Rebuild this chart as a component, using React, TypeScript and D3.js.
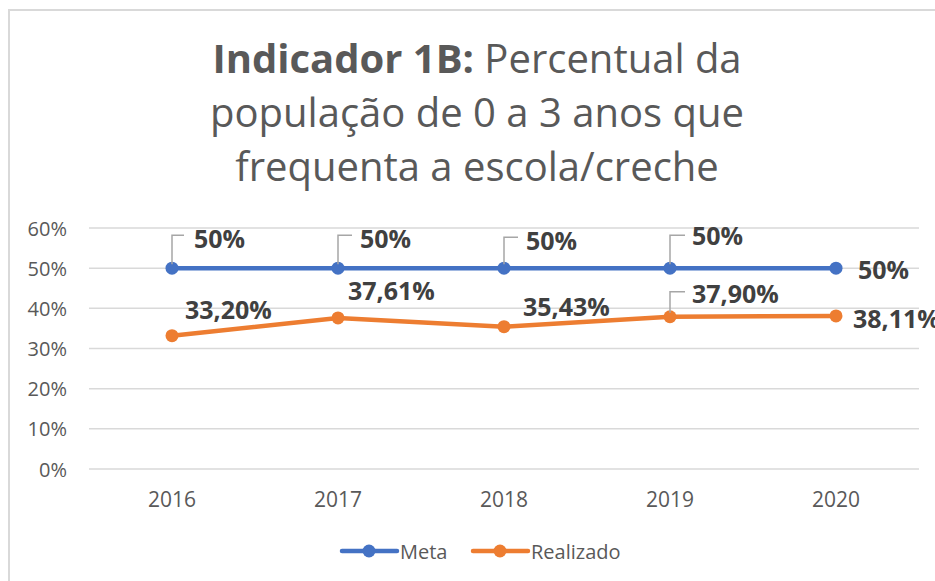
import React, { useEffect } from 'react';
import * as d3 from 'd3';

const years = ['2016', '2017', '2018', '2019', '2020'];
const meta = [50, 50, 50, 50, 50];
const realizado = [33.2, 37.61, 35.43, 37.9, 38.11];
const yTicks = [0, 10, 20, 30, 40, 50, 60];
const titleLines = [
  [{ t: 'Indicador 1B:', bold: true }, { t: ' Percentual da', bold: false }],
  [{ t: 'população de 0 a 3 anos que', bold: false }],
  [{ t: 'frequenta a escola/creche', bold: false }],
];

// label placement relative to the point: [dx, dy, leaderTop, leaderEnd] (leader null = none)
const metaLabelPos: [number, number, number | null, number][] = [
  [22, -30, -33, 12],
  [22, -30, -33, 14],
  [22, -28, -31, 14],
  [22, -33, -33, 15],
  [22, 1, null, 0],
];
const realLabelPos: [number, number, number | null, number][] = [
  [13, -27, null, 0],
  [10, -28, null, 0],
  [19, -21, null, 0],
  [22, -24, -25, 15],
  [17, 2, null, 0],
];

const fmt = (v: number) => v === 50 ? '50%' : v.toFixed(2).replace('.', ',') + '%';

export default function App() {
  useEffect(() => {
    document.body.style.margin = '0';
  }, []);

  const width = 935;
  const height = 581;
  const left = 89;
  const right = 919;
  const top = 228;
  const bottom = 469;

  const x = d3.scaleBand<string>().domain(years).range([left, right]);
  const y = d3.scaleLinear().domain([0, 60]).range([bottom, top]);
  const cx = (d: string) => (x(d) ?? 0) + x.bandwidth() / 2;

  const line = d3.line<number>()
    .x((_, i) => cx(years[i]))
    .y(d => y(d));

  const font = "'Open Sans', sans-serif";
  const series = [
    { name: 'Meta', values: meta, color: '#4472C4', pos: metaLabelPos },
    { name: 'Realizado', values: realizado, color: '#ED7D31', pos: realLabelPos },
  ];

  return (
    <svg width={width} height={height} style={{ position: 'absolute', left: 0, top: 0 }} fontFamily={font}>
      <rect x={0} y={0} width={width} height={height} fill="#fff" />
      <rect x={9} y={10} width={width + 20} height={height + 20} fill="none" stroke="#D9D9D9" strokeWidth={2} />

      {/* title */}
      <text x={477} textAnchor="middle" fill="#595959" fontSize={40}>
        {titleLines.map((ln, i) => (
          <tspan key={i} x={477} y={73 + i * 54}>
            {ln.map((p, j) => (
              <tspan key={j} fontWeight={p.bold ? 'bold' : 'normal'}>{p.t}</tspan>
            ))}
          </tspan>
        ))}
      </text>

      {/* gridlines */}
      {yTicks.map(t => (
        <g key={t}>
          <line x1={left} x2={right} y1={y(t)} y2={y(t)} stroke="#D9D9D9" strokeWidth={1.5} />
          <text x={67} y={y(t)} textAnchor="end" dominantBaseline="central" fontSize={20} fill="#595959">{t}%</text>
        </g>
      ))}

      {years.map(yr => (
        <text key={yr} x={cx(yr)} y={499} textAnchor="middle" dominantBaseline="central" fontSize={21} fill="#595959">{yr}</text>
      ))}

      {series.map(s => (
        <g key={s.name}>
          <path d={line(s.values) ?? ''} fill="none" stroke={s.color} strokeWidth={4.5} strokeLinejoin="round" strokeLinecap="round" />
          {s.values.map((v, i) => (
            <circle key={i} cx={cx(years[i])} cy={y(v)} r={6.5} fill={s.color} />
          ))}
          {s.values.map((v, i) => {
            const px = cx(years[i]);
            const py = y(v);
            const [dx, dy, lt, le] = s.pos[i];
            return (
              <g key={'l' + i}>
                {lt !== null && (
                  <path d={`M${px},${py - 4}V${py + lt}H${px + le}`} fill="none" stroke="#A6A6A6" strokeWidth={1.5} />
                )}
                <text x={px + dx} y={py + dy} dominantBaseline="central" fontSize={25} fontWeight="bold" fill="#404040">{fmt(v)}</text>
              </g>
            );
          })}
        </g>
      ))}

      {/* legend */}
      {series.map((s, i) => {
        const lx = [342, 473][i];
        return (
          <g key={'lg' + s.name}>
            <line x1={lx} x2={lx + 55} y1={551} y2={551} stroke={s.color} strokeWidth={4.5} strokeLinecap="round" />
            <circle cx={lx + 27} cy={551} r={6.5} fill={s.color} />
            <text x={lx + 58} y={551} dominantBaseline="central" fontSize={20} fill="#595959">{s.name}</text>
          </g>
        );
      })}
    </svg>
  );
}
